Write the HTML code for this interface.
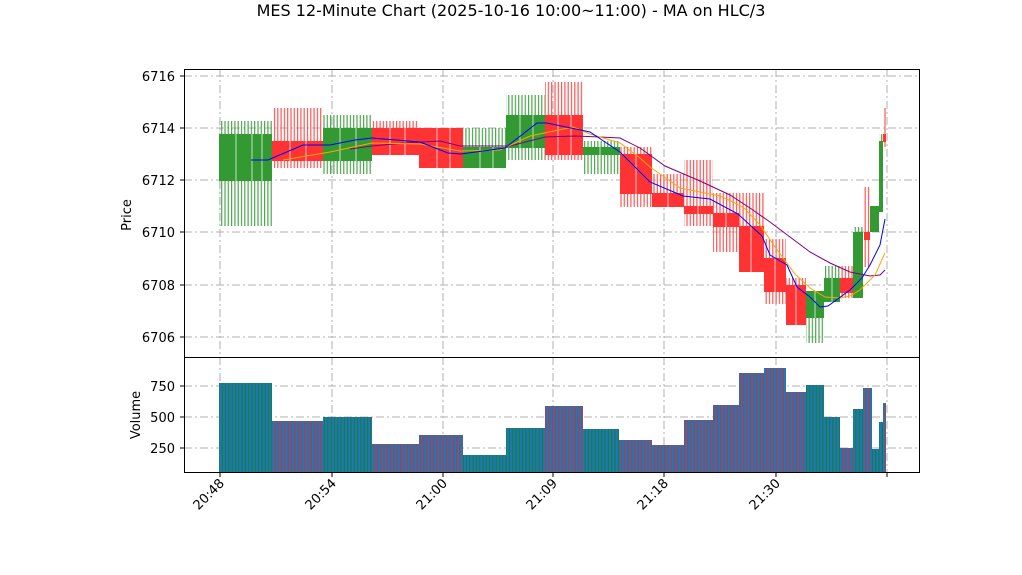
<!DOCTYPE html>
<html><head><meta charset="utf-8"><style>
html,body{margin:0;padding:0;background:#fff;}
svg{display:block;font-family:"DejaVu Sans","Liberation Sans",sans-serif;}
</style></head><body>
<svg width="1022" height="575" viewBox="0 0 1022 575" xmlns="http://www.w3.org/2000/svg">
<defs>
<pattern id="wg" width="3.3" height="10" patternUnits="userSpaceOnUse"><rect x="0" y="0" width="1.2" height="10" fill="#3c9c3c" fill-opacity="0.9"/></pattern>
<pattern id="wr" width="3.3" height="10" patternUnits="userSpaceOnUse"><rect x="0" y="0" width="1.2" height="10" fill="#ff4444" fill-opacity="0.9"/></pattern>
<pattern id="vg" width="3.3" height="10" patternUnits="userSpaceOnUse"><rect width="3.3" height="10" fill="#1f77b4"/><rect x="0.8" width="0.8" height="10" fill="#108010"/></pattern>
<pattern id="vr" width="3.3" height="10" patternUnits="userSpaceOnUse"><rect width="3.3" height="10" fill="#1f77b4"/><rect x="0.8" width="0.8" height="10" fill="#ff1a1a"/></pattern>
</defs>
<rect width="1022" height="575" fill="#fff"/>
<text x="511" y="16" font-size="16" text-anchor="middle">MES 12-Minute Chart (2025-10-16 10:00~11:00) - MA on HLC/3</text>

<g stroke="#b0b0b0" stroke-width="1" stroke-dasharray="8,3,2,3" fill="none">
<path d="M184 337H920M184 285H920M184 232H920M184 180H920M184 128H920M184 76H920"/>
<path d="M184 386H920M184 417H920M184 448H920"/>
<path d="M220 69V472M332 69V472M443 69V472M553 69V472M664 69V472M776 69V472M887 69V472"/>
</g>

<g id="wicks">
<rect x="219" y="121" width="53" height="105" fill="url(#wg)"/>
<rect x="272" y="108" width="51" height="60" fill="url(#wr)"/>
<rect x="323" y="115" width="49" height="59" fill="url(#wg)"/>
<rect x="372" y="121" width="47" height="34" fill="url(#wr)"/>
<rect x="419" y="128" width="44" height="40" fill="url(#wr)"/>
<rect x="463" y="128" width="43" height="40" fill="url(#wg)"/>
<rect x="506" y="95" width="39" height="65" fill="url(#wg)"/>
<rect x="545" y="82" width="38" height="78" fill="url(#wr)"/>
<rect x="583" y="141" width="37" height="33" fill="url(#wg)"/>
<rect x="620" y="147" width="32" height="60" fill="url(#wr)"/>
<rect x="652" y="174" width="32" height="33" fill="url(#wr)"/>
<rect x="684" y="160" width="29" height="66" fill="url(#wr)"/>
<rect x="713" y="193" width="26" height="59" fill="url(#wr)"/>
<rect x="739" y="193" width="25" height="79" fill="url(#wr)"/>
<rect x="764" y="239" width="22" height="65" fill="url(#wr)"/>
<rect x="786" y="278" width="20" height="47" fill="url(#wr)"/>
<rect x="806" y="291" width="18" height="52" fill="url(#wg)"/>
<rect x="824" y="266" width="16" height="36" fill="url(#wg)"/>
<rect x="840" y="266" width="13" height="32" fill="url(#wr)"/>
<rect x="853" y="227" width="10" height="71" fill="url(#wg)"/>
<rect x="864" y="187" width="6" height="80" fill="url(#wr)"/>
<rect x="870" y="206" width="9" height="26" fill="url(#wg)"/>
<rect x="879" y="134" width="4" height="78" fill="url(#wg)"/>
<rect x="883" y="108" width="3" height="39" fill="url(#wr)"/>
</g>
<g id="bodies">
<rect x="219" y="134" width="53" height="47" fill="#339933"/>
<rect x="272" y="141" width="51" height="20" fill="#ff3333"/>
<rect x="323" y="128" width="49" height="33" fill="#339933"/>
<rect x="372" y="128" width="47" height="27" fill="#ff3333"/>
<rect x="419" y="128" width="44" height="40" fill="#ff3333"/>
<rect x="463" y="147" width="43" height="21" fill="#339933"/>
<rect x="506" y="115" width="39" height="33" fill="#339933"/>
<rect x="545" y="115" width="38" height="40" fill="#ff3333"/>
<rect x="583" y="147" width="37" height="8" fill="#339933"/>
<rect x="620" y="154" width="32" height="40" fill="#ff3333"/>
<rect x="652" y="193" width="32" height="14" fill="#ff3333"/>
<rect x="684" y="206" width="29" height="8" fill="#ff3333"/>
<rect x="713" y="213" width="26" height="14" fill="#ff3333"/>
<rect x="739" y="226" width="25" height="46" fill="#ff3333"/>
<rect x="764" y="258" width="22" height="34" fill="#ff3333"/>
<rect x="786" y="285" width="20" height="40" fill="#ff3333"/>
<rect x="806" y="291" width="18" height="27" fill="#339933"/>
<rect x="824" y="278" width="16" height="24" fill="#339933"/>
<rect x="840" y="278" width="13" height="15" fill="#ff3333"/>
<rect x="853" y="232" width="10" height="66" fill="#339933"/>
<rect x="864" y="232" width="6" height="8" fill="#ff3333"/>
<rect x="870" y="206" width="9" height="26" fill="#339933"/>
<rect x="879" y="141" width="4" height="71" fill="#339933"/>
<rect x="883" y="134" width="3" height="8" fill="#ff3333"/>
</g>
<g stroke="#ffffff" stroke-width="1" opacity="0.7">
<path d="M236 134V181M252 134V181M262 134V181M290 141V161M306 141V161M340 128V161M356 128V161M390 128V155M405 128V155M437 128V168M450 128V168M480 147V168M493 147V168M520 115V148M533 115V148M558 115V155M571 115V155M600 147V155M636 154V194M668 193V207M698 206V214M726 213V227M751 226V272M775 258V292M796 285V325M815 291V318M832 278V302"/>
</g>

<polyline fill="none" stroke="#800080" stroke-width="1" points="350,149 372,146 405,143 440,141 460,146 510,146 545,137 575,136 600,137 620,138 640,148 665,166 700,181 730,195 750,208 770,222 790,237 810,252 830,263 850,272 870,276 880,275 885,270"/>
<polyline fill="none" stroke="#ffa500" stroke-width="1" points="283,160 330,152 372,143 420,144 460,151 500,150 530,136 573,127 590,134 620,143 640,158 650,167 680,188 700,192 720,196 735,203 745,209 760,225 775,247 795,274 810,288 825,297 840,298 850,296 860,290 875,275 885,253"/>
<polyline fill="none" stroke="#0000ff" stroke-width="1" points="251,160 268,160 303,145 330,145 355,140 372,138 420,142 448,153 461,154 505,148 537,123 547,123 590,132 620,152 650,182 683,196 710,199 738,214 762,236 770,255 787,265 797,287 810,297 820,307 828,306 850,290 862,278 870,265 880,245 885,219"/>

<g id="vol">
<rect x="219" y="383" width="53" height="89" fill="url(#vg)"/>
<rect x="272" y="421" width="51" height="51" fill="url(#vr)"/>
<rect x="323" y="417" width="49" height="55" fill="url(#vg)"/>
<rect x="372" y="444" width="47" height="28" fill="url(#vr)"/>
<rect x="419" y="435" width="44" height="37" fill="url(#vr)"/>
<rect x="463" y="455" width="43" height="17" fill="url(#vg)"/>
<rect x="506" y="428" width="39" height="44" fill="url(#vg)"/>
<rect x="545" y="406" width="38" height="66" fill="url(#vr)"/>
<rect x="583" y="429" width="36" height="43" fill="url(#vg)"/>
<rect x="619" y="440" width="33" height="32" fill="url(#vr)"/>
<rect x="652" y="445" width="32" height="27" fill="url(#vr)"/>
<rect x="684" y="420" width="29" height="52" fill="url(#vr)"/>
<rect x="713" y="405" width="26" height="67" fill="url(#vr)"/>
<rect x="739" y="373" width="25" height="99" fill="url(#vr)"/>
<rect x="764" y="368" width="22" height="104" fill="url(#vr)"/>
<rect x="786" y="392" width="20" height="80" fill="url(#vr)"/>
<rect x="806" y="385" width="18" height="87" fill="url(#vg)"/>
<rect x="824" y="417" width="16" height="55" fill="url(#vg)"/>
<rect x="840" y="448" width="13" height="24" fill="url(#vr)"/>
<rect x="853" y="409" width="10" height="63" fill="url(#vg)"/>
<rect x="863" y="388" width="9" height="84" fill="url(#vr)"/>
<rect x="872" y="449" width="7" height="23" fill="url(#vg)"/>
<rect x="879" y="422" width="4" height="50" fill="url(#vg)"/>
<rect x="883" y="403" width="3" height="69" fill="url(#vr)"/>
</g>

<rect x="184.5" y="69.5" width="735" height="288" fill="none" stroke="#000" stroke-width="1"/>
<rect x="184.5" y="357.5" width="735" height="115" fill="none" stroke="#000" stroke-width="1"/>

<g stroke="#000" stroke-width="1">
<path d="M180 337H184M180 285H184M180 232H184M180 180H184M180 128H184M180 76H184"/>
<path d="M180 386H184M180 417H184M180 448H184"/>
<path d="M220 472V477M332 472V477M443 472V477M553 472V477M664 472V477M776 472V477M887 472V477"/>
</g>
<g font-size="13" text-anchor="end">
<text x="175" y="342">6706</text>
<text x="175" y="290">6708</text>
<text x="175" y="237">6710</text>
<text x="175" y="185">6712</text>
<text x="175" y="133">6714</text>
<text x="175" y="81">6716</text>
<text x="175" y="391">750</text>
<text x="175" y="422">500</text>
<text x="175" y="453">250</text>
</g>
<text transform="translate(131,215) rotate(-90)" font-size="13" text-anchor="middle">Price</text>
<text transform="translate(140,415) rotate(-90)" font-size="13" text-anchor="middle">Volume</text>
<g font-size="13" text-anchor="end">
<text transform="translate(225,484) rotate(-45)">20:48</text>
<text transform="translate(337,484) rotate(-45)">20:54</text>
<text transform="translate(448,484) rotate(-45)">21:00</text>
<text transform="translate(558,484) rotate(-45)">21:09</text>
<text transform="translate(669,484) rotate(-45)">21:18</text>
<text transform="translate(781,484) rotate(-45)">21:30</text>
</g>
</svg>
</body></html>
